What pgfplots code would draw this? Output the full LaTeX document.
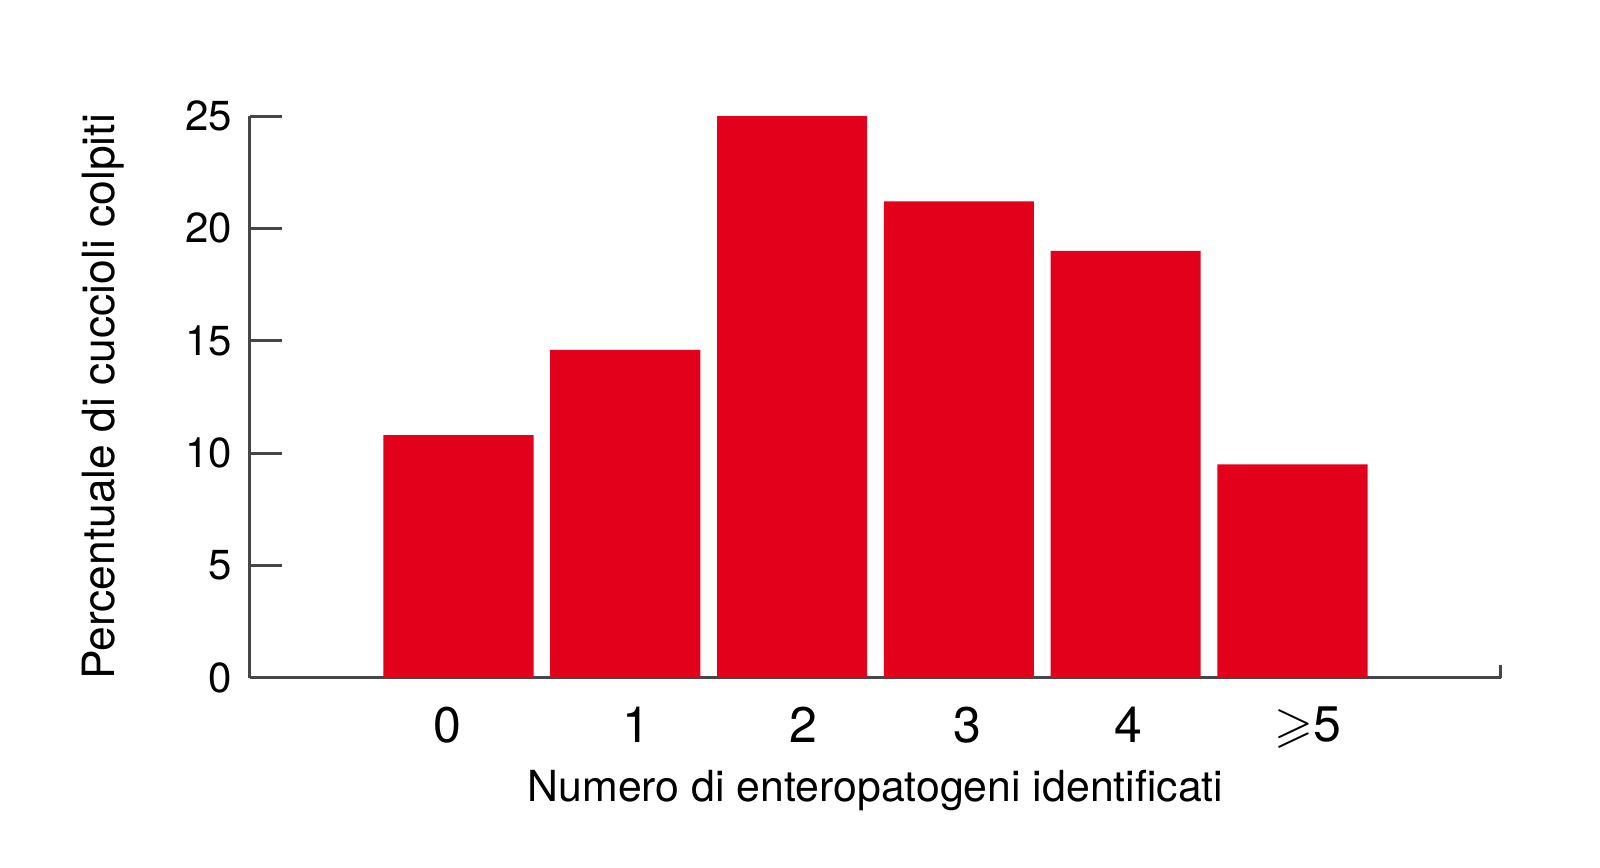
\documentclass[border=0pt]{standalone}
\usepackage{pgfplots}
\pgfplotsset{compat=1.18}
\usepackage{amssymb}
\usepackage{fontspec}
\setmainfont{TeX Gyre Heros}
\definecolor{barred}{RGB}{226,0,26}
\definecolor{axgray}{RGB}{70,70,70}
\begin{document}
\begin{tikzpicture}
\begin{axis}[
  name=ax,
  scale only axis,
  width=312.75pt, height=140.5pt,
  xmin=-1.25, xmax=6.25,
  ymin=0, ymax=25,
  axis x line*=bottom, axis y line*=left,
  axis line style={draw=axgray, line width=0.75pt},
  ytick={0,5,10,15,20,25},
  ytick align=inside,
  major tick length=8pt,
  ytick style={draw=axgray, line width=0.75pt},
  xtick={-0.067,1.067,2.067,3.049,4.018,5.09},
  xticklabels={0,1,2,3,4,{$\geqslant$5}},
  xtick style={draw=none},
  /pgf/number format/assume math mode=true,
  yticklabel style={font=\fontsize{10.5}{12}\selectfont, xshift=-1pt},
  xticklabel style={font=\fontsize{12.5}{14}\selectfont, yshift=-3.7pt},
  ylabel={Percentuale di cuccioli colpiti},
  xlabel={Numero di enteropatogeni identificati},
  ylabel style={font=\fontsize{11.1}{13}\selectfont, yshift=8.5pt},
  xlabel style={font=\fontsize{10.7}{13}\selectfont, yshift=1.5pt},
  clip=false,
]
\addplot[ybar, bar width=0.9, fill=barred, draw=none] coordinates {
  (0,10.8) (1,14.6) (2,25.0) (3,21.2) (4,19.0) (5,9.5)
};
\end{axis}
\draw[axgray, line width=0.75pt] (ax.south east) -- ++(0,3.25pt);
\path (ax.south west) ++(-62.5pt,-47.5pt) rectangle ++(400pt,217pt);
\end{tikzpicture}
\end{document}
